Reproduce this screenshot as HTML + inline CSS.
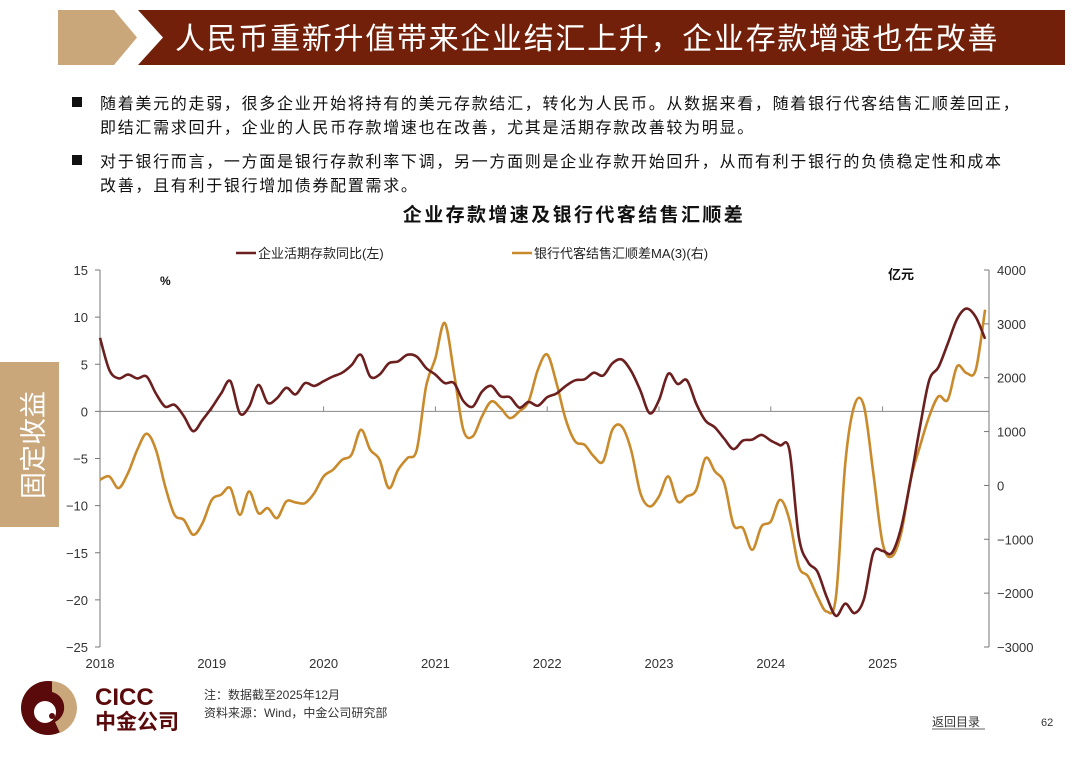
<!DOCTYPE html>
<html><head><meta charset="utf-8"><style>
html,body{margin:0;padding:0;background:#fff;}
svg text{font-family:"Liberation Sans","Noto Sans CJK SC",sans-serif;}
</style></head><body>
<svg id="page" width="1080" height="755" viewBox="0 0 1080 755" xmlns="http://www.w3.org/2000/svg">
<polygon points="58,10 114,10 137,37.5 114,65 58,65" fill="#c9a77a"/>
<polygon points="138,10 1065,10 1065,65 138,65 163,37.5" fill="#73200a"/>
<text x="175" y="49" font-size="30" letter-spacing="1.7" fill="#fff">人民币重新升值带来企业结汇上升，企业存款增速也在改善</text>
<rect x="0" y="362" width="59" height="165" fill="#c9a77a"/>
<text transform="translate(43,445) rotate(-90)" text-anchor="middle" font-size="27" fill="#fff">固定收益</text>
<g font-size="16" letter-spacing="1.7" fill="#111">
<rect x="72" y="97" width="10" height="10" fill="#111"/>
<text x="100" y="109">随着美元的走弱，很多企业开始将持有的美元存款结汇，转化为人民币。从数据来看，随着银行代客结售汇顺差回正，</text>
<text x="100" y="133">即结汇需求回升，企业的人民币存款增速也在改善，尤其是活期存款改善较为明显。</text>
<rect x="72" y="155" width="10" height="10" fill="#111"/>
<text x="100" y="167">对于银行而言，一方面是银行存款利率下调，另一方面则是企业存款开始回升，从而有利于银行的负债稳定性和成本</text>
<text x="100" y="191">改善，且有利于银行增加债券配置需求。</text>
</g>
<text x="574" y="221" text-anchor="middle" font-size="19" letter-spacing="2.4" font-weight="bold" fill="#111">企业存款增速及银行代客结售汇顺差</text>
<g font-size="13" fill="#222">
<line x1="236" y1="253" x2="256" y2="253" stroke="#6b1f1f" stroke-width="2.5"/>
<text x="258" y="258">企业活期存款同比(左)</text>
<line x1="512" y1="253" x2="532" y2="253" stroke="#c98a2c" stroke-width="2.5"/>
<text x="534" y="258">银行代客结售汇顺差MA(3)(右)</text>
</g>
<text x="160" y="285" font-size="12" font-weight="bold" fill="#111">%</text>
<text x="888" y="279" font-size="13" font-weight="bold" fill="#111">亿元</text>
<g id="chart"></g>
<g>
<circle cx="48" cy="708" r="27" fill="#5a0a0a"/>
<path d="M52,681 A27,27 0 0 1 60,733 L55,722 A16,16 0 0 0 52,692 Z" fill="#c9a77a"/>
<circle cx="45" cy="712" r="11" fill="#fff"/>
<circle cx="52" cy="716" r="3" fill="#5a0a0a"/>
<text x="95" y="705" font-size="24" font-weight="bold" fill="#5a0a0a">CICC</text>
<text x="95" y="729" font-size="21" font-weight="bold" fill="#5a0a0a">中金公司</text>
</g>
<text x="204" y="699" font-size="12" fill="#333">注：数据截至2025年12月</text>
<text x="204" y="717" font-size="12" fill="#333">资料来源：Wind，中金公司研究部</text>
<text x="932" y="726" font-size="12" fill="#333">返回目录</text>
<line x1="932" y1="729" x2="985" y2="729" stroke="#333" stroke-width="0.8"/>
<text x="1041" y="726" font-size="11" fill="#333">62</text>
</svg>
<script>
const years = ["2018","2019","2020","2021","2022","2023","2024","2025"];
const leftTicks = [15,10,5,0,-5,-10,-15,-20,-25];
const rightTicks = [4000,3000,2000,1000,0,-1000,-2000,-3000];
const depositYoY = [7.8,4.4,3.5,3.9,3.5,3.7,1.9,0.5,0.7,-0.5,-2.1,-0.9,
0.4,1.9,3.2,-0.2,0.5,2.8,0.9,1.4,2.5,1.8,3.0,2.7,
3.2,3.7,4.1,4.9,6.0,3.7,3.9,5.1,5.3,6.0,5.8,4.6,
3.9,3.0,3.0,1.1,0.5,2.1,2.7,1.6,1.5,0.4,1.0,0.6,
1.5,1.9,2.7,3.3,3.4,4.1,3.8,5.1,5.5,4.3,2.2,-0.2,
1.2,4.0,2.9,3.3,0.8,-1.0,-1.7,-2.9,-4.0,-3.1,-3.0,-2.5,
-3.1,-3.6,-4.1,-13.3,-16.0,-17.0,-19.7,-21.7,-20.4,-21.4,-19.9,-15.0,
-14.8,-15.0,-12.3,-7.3,-1.7,3.3,4.7,7.2,9.8,10.9,10.0,7.7];
const fxSurplusMA3 = [105,167,-50,229,663,960,663,-19,-545,-638,-916,-700,
-266,-173,-50,-545,-111,-514,-421,-607,-297,-316,-328,-142,
167,291,477,570,1034,663,477,-50,291,508,663,1839,
2365,3015,2087,1034,910,1282,1560,1437,1251,1375,1560,2149,
2430,1900,1220,817,755,539,446,1034,1096,663,-142,-390,
-204,167,-297,-204,-80,508,260,43,-731,-793,-1195,-762,
-669,-266,-638,-1505,-1690,-2062,-2341,-2062,415,1498,1467,229,
-1071,-1319,-885,105,724,1282,1653,1591,2210,2087,2149,3263];

const NS="http://www.w3.org/2000/svg";
const g=document.getElementById('chart');
const X0=100,YEARPX=111.8,PY0=270,PY1=647,XR=989;
const xAt=i=>X0+i*YEARPX/12;
const yL=v=>PY0+(15-v)*(PY1-PY0)/40;
const yR=v=>PY0+(4000-v)*(PY1-PY0)/7000;
function el(tag,attrs){const e=document.createElementNS(NS,tag);for(const k in attrs)e.setAttribute(k,attrs[k]);g.appendChild(e);return e;}
let a=el('line',{x1:X0,y1:PY0,x2:X0,y2:PY1,stroke:'#777','stroke-width':1});


a=el('line',{x1:XR,y1:PY0,x2:XR,y2:PY1,stroke:'#777','stroke-width':1});


a=el('line',{x1:X0,y1:yL(0),x2:XR,y2:yL(0),stroke:'#888','stroke-width':1});


leftTicks.forEach(v=>{
  el('line',{x1:X0-5,y1:yL(v),x2:X0,y2:yL(v),stroke:'#777'});
  const t=el('text',{x:X0-12,y:yL(v)+5,'text-anchor':'end','font-size':13,fill:'#333'});
  t.textContent=v<0?'−'+(-v):String(v);
  
  
});
rightTicks.forEach(v=>{
  el('line',{x1:XR-5,y1:yR(v),x2:XR,y2:yR(v),stroke:'#777'});
  const t=el('text',{x:XR+8,y:yR(v)+5,'font-size':13,fill:'#333'});
  t.textContent=v<0?'−'+(-v):String(v);
  
  
});
years.forEach((y,k)=>{
  const x=X0+k*YEARPX;
  if(k>0) el('line',{x1:x,y1:yL(0)-5,x2:x,y2:yL(0),stroke:'#888'});
  const t=el('text',{x:x,y:668,'text-anchor':'middle','font-size':13,fill:'#333'});
  t.textContent=y;
  
  
});
function smooth(pts){
  let d='M'+pts[0][0].toFixed(1)+','+pts[0][1].toFixed(1);
  for(let i=0;i<pts.length-1;i++){
    const p0=pts[i-1]||pts[i],p1=pts[i],p2=pts[i+1],p3=pts[i+2]||p2;
    const c1=[p1[0]+(p2[0]-p0[0])/6,p1[1]+(p2[1]-p0[1])/6];
    const c2=[p2[0]-(p3[0]-p1[0])/6,p2[1]-(p3[1]-p1[1])/6];
    d+=' C'+c1.map(n=>n.toFixed(1))+' '+c2.map(n=>n.toFixed(1))+' '+p2.map(n=>n.toFixed(1));
  }
  return d;
}
let p=el('path',{d:smooth(fxSurplusMA3.map((v,i)=>[xAt(i),yR(v)])),fill:'none',stroke:'#c98a2c','stroke-width':2.6,'stroke-linejoin':'round'});


p=el('path',{d:smooth(depositYoY.map((v,i)=>[xAt(i),yL(v)])),fill:'none',stroke:'#6b1f1f','stroke-width':2.6,'stroke-linejoin':'round'});


</script>
</body></html>
